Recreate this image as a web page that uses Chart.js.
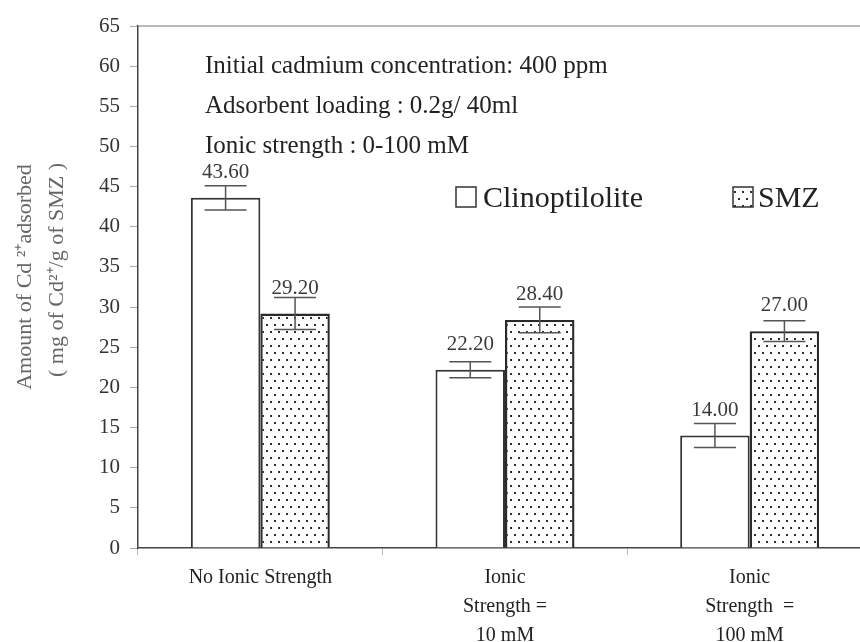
<!DOCTYPE html>
<html>
<head>
<meta charset="utf-8">
<script src="https://cdn.jsdelivr.net/npm/chart.js@4"></script>
<style>
  html, body { margin: 0; padding: 0; background: #fff; overflow: hidden; }
  #wrap { width: 860px; height: 642px; overflow: hidden; position: relative; }
  canvas { display: block; }
</style>
</head>
<body>
<div id="wrap"><canvas id="c" width="880" height="642"></canvas></div>
<script>
// Categories (multi-line tick labels)
const categories = [
  ['No Ionic Strength'],
  ['Ionic', 'Strength =', '10 mM'],
  ['Ionic', 'Strength  =', '100 mM']
];
// Amount of Cd2+ adsorbed, mg per g of sorbent
const clinoValues = [43.6, 22.2, 14.0];
const smzValues = [29.2, 28.4, 27.0];
// Standard deviations shown as error bars
const clinoErrors = [1.5, 1.0, 1.5];
const smzErrors = [2.0, 1.6, 1.3];
// Y axis range
const yMin = 0, yMax = 65, yStep = 5;
// Experimental conditions
const notes = [
  'Initial cadmium concentration: 400 ppm',
  'Adsorbent loading : 0.2g/ 40ml',
  'Ionic strength : 0-100 mM'
];
const seriesNames = ['Clinoptilolite', 'SMZ'];
const yTitle = ['Amount of Cd \u00B2\u207Aadsorbed', '( mg of Cd\u00B2\u207A/g of SMZ )'];

const SERIF = '"Liberation Serif", "Times New Roman", serif';

// Stippled fill for the SMZ bars
function makeDots() {
  const t = document.createElement('canvas');
  t.width = 8; t.height = 14;
  const g = t.getContext('2d');
  g.fillStyle = '#fff';
  g.fillRect(0, 0, 8, 14);
  g.fillStyle = '#2e2e2e';
  g.fillRect(2, 2, 2, 2);
  g.fillRect(6, 9, 2, 2);
  return g.createPattern(t, 'repeat');
}
const ctx0 = document.getElementById('c').getContext('2d');
const dots = makeDots();

const errorBars = {
  id: 'errorBars',
  afterDatasetsDraw(chart) {
    const { ctx, scales: { y } } = chart;
    const errs = [clinoErrors, smzErrors];
    ctx.save();
    ctx.strokeStyle = '#555';
    ctx.lineWidth = 1.5;
    chart.data.datasets.forEach((ds, di) => {
      const meta = chart.getDatasetMeta(di);
      meta.data.forEach((bar, i) => {
        const v = ds.data[i], e = errs[di][i];
        const yt = y.getPixelForValue(v + e), yb = y.getPixelForValue(v - e);
        const x = bar.x, hw = 21;
        ctx.beginPath();
        ctx.moveTo(x, yt); ctx.lineTo(x, yb);
        ctx.moveTo(x - hw, yt); ctx.lineTo(x + hw, yt);
        ctx.moveTo(x - hw, yb); ctx.lineTo(x + hw, yb);
        ctx.stroke();
      });
    });
    // value labels
    ctx.fillStyle = '#3a3a3a';
    ctx.font = '21px ' + SERIF;
    ctx.textAlign = 'center';
    ctx.textBaseline = 'alphabetic';
    chart.data.datasets.forEach((ds, di) => {
      const meta = chart.getDatasetMeta(di);
      meta.data.forEach((bar, i) => {
        ctx.fillText(ds.data[i].toFixed(2), bar.x, bar.y - 20);
      });
    });
    ctx.restore();
  }
};

const decorations = {
  id: 'decorations',
  afterDraw(chart) {
    const { ctx, chartArea: a, scales: { y } } = chart;
    ctx.save();
    // top frame line
    ctx.strokeStyle = '#777';
    ctx.lineWidth = 1.2;
    ctx.beginPath();
    ctx.moveTo(a.left, a.top); ctx.lineTo(a.right, a.top);
    ctx.stroke();

    // conditions text
    ctx.fillStyle = '#222';
    ctx.font = '25px ' + SERIF;
    ctx.textAlign = 'left';
    ctx.textBaseline = 'middle';
    notes.forEach((t, i) => {
      ctx.fillText(t, 205, y.getPixelForValue(60 - 5 * i));
    });

    // legend
    const ly = 197;
    ctx.font = '30px ' + SERIF;
    ctx.textBaseline = 'alphabetic';
    ctx.lineWidth = 1.5;
    ctx.strokeStyle = '#333';
    ctx.fillStyle = '#fff';
    ctx.fillRect(456, ly - 10, 20, 20);
    ctx.strokeRect(456, ly - 10, 20, 20);
    ctx.fillStyle = '#222';
    ctx.fillText(seriesNames[0], 483, ly + 10);
    ctx.fillStyle = dots;
    ctx.fillRect(733, ly - 10, 20, 20);
    ctx.strokeRect(733, ly - 10, 20, 20);
    ctx.fillStyle = '#222';
    ctx.fillText(seriesNames[1], 758, ly + 10);

    // y axis title (two rotated lines)
    ctx.fillStyle = '#666';
    ctx.font = '22px ' + SERIF;
    ctx.textAlign = 'center';
    ctx.textBaseline = 'middle';
    [[25, 277], [57, 270]].forEach(([x, cy], i) => {
      ctx.save();
      ctx.translate(x, cy);
      ctx.rotate(-Math.PI / 2);
      ctx.fillText(yTitle[i], 0, 0);
      ctx.restore();
    });
    ctx.restore();
  }
};

new Chart(ctx0, {
  type: 'bar',
  data: {
    labels: categories,
    datasets: [
      {
        label: seriesNames[0],
        data: clinoValues,
        backgroundColor: '#fff',
        borderColor: '#333',
        borderWidth: 2,
        borderSkipped: 'bottom'
      },
      {
        label: seriesNames[1],
        data: smzValues,
        backgroundColor: dots,
        borderColor: '#2a2a2a',
        borderWidth: 2.4,
        borderSkipped: 'bottom'
      }
    ]
  },
  options: {
    responsive: false,
    animation: false,
    devicePixelRatio: 1,
    layout: { padding: { top: 26, right: 8, left: 0, bottom: 0 } },
    plugins: { legend: { display: false }, tooltip: { enabled: false } },
    datasets: { bar: { barPercentage: 1, categoryPercentage: 0.568 } },
    scales: {
      x: {
        grid: { drawOnChartArea: false, drawTicks: true, tickLength: 7, color: '#bbb', offset: true },
        border: { display: true, color: '#444', width: 1.5 },
        ticks: { color: '#222', font: { family: SERIF, size: 20, lineHeight: 1.45 }, padding: 8, maxRotation: 0, autoSkip: false },
        afterFit(s) { s.height = 94; }
      },
      y: {
        min: yMin, max: yMax,
        grid: { drawOnChartArea: false, drawTicks: true, tickLength: 8, color: '#aaa' },
        border: { display: true, color: '#444', width: 1.5 },
        ticks: { stepSize: yStep, color: '#333', font: { family: SERIF, size: 21 }, padding: 10 },
        afterFit(s) { s.width = 138; }
      }
    }
  },
  plugins: [errorBars, decorations]
});
</script>
</body>
</html>
